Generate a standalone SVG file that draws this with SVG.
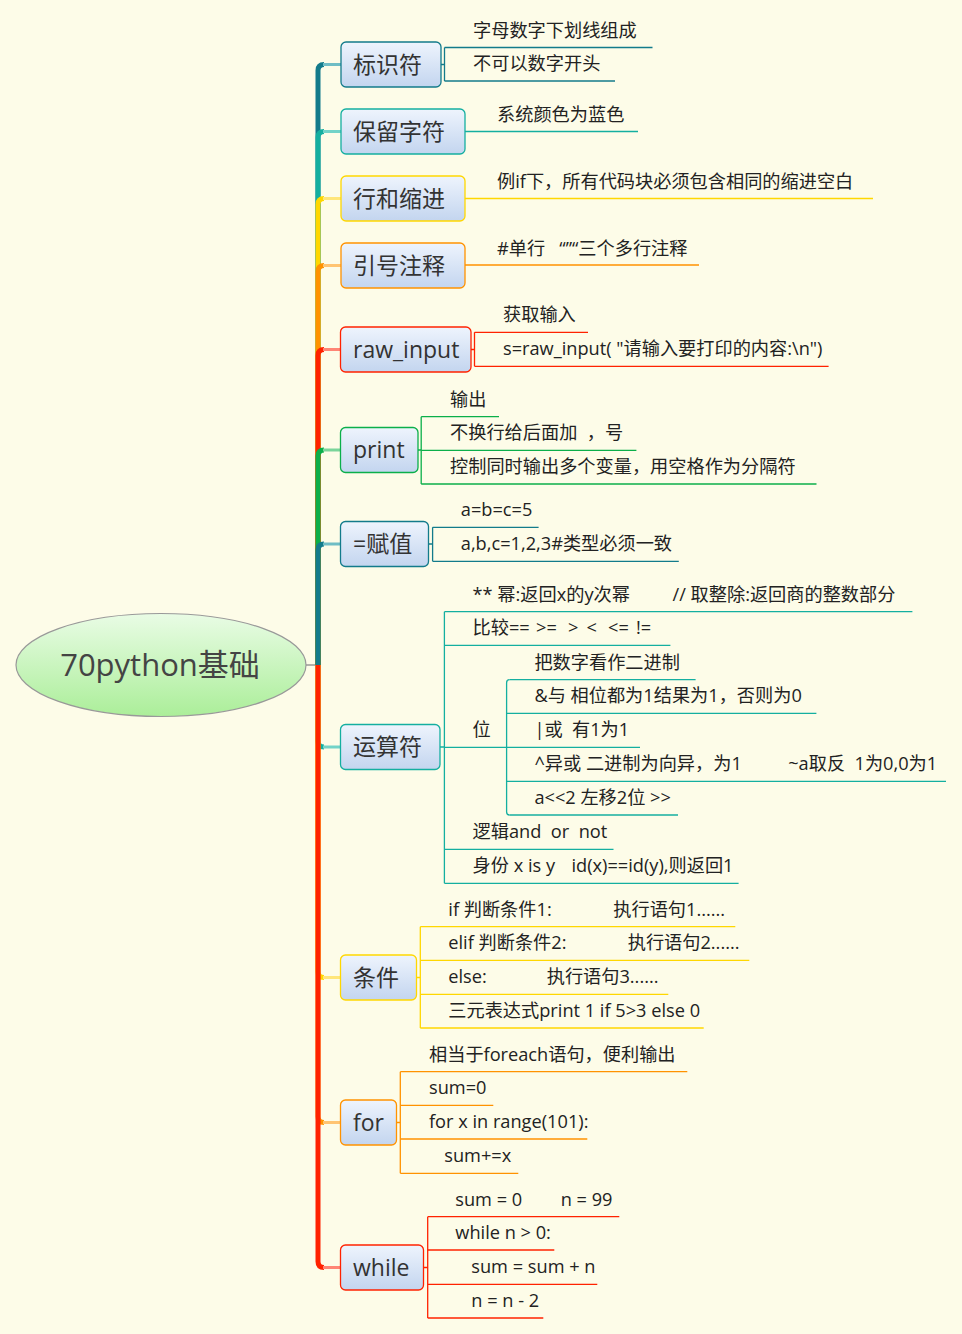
<svg xmlns="http://www.w3.org/2000/svg" width="962" height="1334" viewBox="0 0 962 1334">
<defs>
<linearGradient id="gn" x1="0" y1="0" x2="0" y2="1"><stop offset="0" stop-color="#EEF4FD"/><stop offset="1" stop-color="#C3D5EF"/></linearGradient>
<linearGradient id="gr" x1="0" y1="0" x2="0" y2="1"><stop offset="0" stop-color="#E9FCE5"/><stop offset="1" stop-color="#ABEE99"/></linearGradient>
<style>
.n{font-family:"Open Sans","Noto Sans CJK SC",sans-serif;font-size:23px;fill:#333}
.t{font-family:"Open Sans","Noto Sans CJK SC",sans-serif;font-size:18.2px;fill:#222;white-space:pre}
.box{fill:url(#gn);stroke-width:1.3}
.br{fill:none;stroke-width:5;stroke-linecap:butt}
.hz{fill:none;stroke-width:3}
.ln{fill:none;stroke-width:1.3}
.c1{stroke:#137B8B}.c2{stroke:#14AFA0}.c3{stroke:#FFD700}.c4{stroke:#FF9200}.c5{stroke:#FF2200}.c6{stroke:#0BAF4A}
.l1{stroke:#6FBDC5}.l2{stroke:#72D3C8}.l3{stroke:#FFE67A}.l4{stroke:#FFC472}.l5{stroke:#FF8575}.l6{stroke:#7AD59A}
</style>
</defs>
<rect width="962" height="1334" fill="#FDFCE8"/>

<g id="connectors">
<line x1="306" y1="665" x2="316" y2="665" stroke="#888" stroke-width="1.3"/>
<path class="br c1" d="M318,665V70.5Q318,64.5 324,64.5"/><line class="hz l1" x1="323" y1="64.5" x2="341" y2="64.5"/>
<path class="br c2" d="M318,665V137.5Q318,131.5 324,131.5"/><line class="hz l2" x1="323" y1="131.5" x2="341" y2="131.5"/>
<path class="br c3" d="M318,665V204.5Q318,198.5 324,198.5"/><line class="hz l3" x1="323" y1="198.5" x2="341" y2="198.5"/>
<path class="br c4" d="M318,665V271.5Q318,265.5 324,265.5"/><line class="hz l4" x1="323" y1="265.5" x2="341" y2="265.5"/>
<path class="br c5" d="M318,665V355.5Q318,349.5 324,349.5"/><line class="hz l5" x1="323" y1="349.5" x2="341" y2="349.5"/>
<path class="br c6" d="M318,665V456Q318,450 324,450"/><line class="hz l6" x1="323" y1="450" x2="341" y2="450"/>
<path class="br c1" d="M318,665V550Q318,544 324,544"/><line class="hz l1" x1="323" y1="544" x2="341" y2="544"/>
<path class="br c2" d="M318,665V741Q318,747 324,747"/><line class="hz l2" x1="323" y1="747" x2="341" y2="747"/>
<path class="br c3" d="M318,665V971.5Q318,977.5 324,977.5"/><line class="hz l3" x1="323" y1="977.5" x2="341" y2="977.5"/>
<path class="br c4" d="M318,665V1116.5Q318,1122.5 324,1122.5"/><line class="hz l4" x1="323" y1="1122.5" x2="341" y2="1122.5"/>
<path class="br c5" d="M318,665V1261.5Q318,1267.5 324,1267.5"/><line class="hz l5" x1="323" y1="1267.5" x2="341" y2="1267.5"/>

<path class="ln c1" d="M441,64.5H444.5M444.5,47.5V81"/>
<path class="ln c5" d="M471,349.5H474.5M474.5,332.3V366.3"/>
<path class="ln c6" d="M418,450H421.2M421.2,416.7V484"/>
<path class="ln c1" d="M428.4,544H432.6M432.6,527.3V561.3"/>
<path class="ln c2" d="M440,747H444.4M444.4,611.7V883.3"/>
<path class="ln c2" d="M509.6,679.7Q506.6,679.7 506.6,682.7V812Q506.6,815 509.6,815"/>
<path class="ln c3" d="M416.3,977.5H420.3M420.3,926.7V1028"/>
<path class="ln c4" d="M396.3,1122.5H400.3M400.3,1071.7V1173.3"/>
<path class="ln c5" d="M423.7,1267.5H427.7M427.7,1216.7V1318"/>
</g>

<g id="root">
<ellipse cx="161" cy="665" rx="145" ry="51.5" fill="url(#gr)" stroke="#999" stroke-width="1.2"/>
<text x="160" y="676" text-anchor="middle" font-family="Open Sans, Noto Sans CJK SC, sans-serif" font-size="31" fill="#444">70python基础</text>
</g>

<g id="n-biaoshifu"><rect class="box c1" x="341" y="42" width="100" height="45" rx="5"/><text class="n" x="353" y="72.5">标识符</text></g>
<g id="n-baoliu"><rect class="box c2" x="341" y="109" width="124" height="45" rx="5"/><text class="n" x="353" y="139.5">保留字符</text></g>
<g id="n-suojin"><rect class="box c3" x="341" y="176" width="124" height="45" rx="5"/><text class="n" x="353" y="206.5">行和缩进</text></g>
<g id="n-zhushi"><rect class="box c4" x="341" y="243" width="124" height="45" rx="5"/><text class="n" x="353" y="273.5">引号注释</text></g>
<g id="n-rawinput"><rect class="box c5" x="340.5" y="327" width="130.5" height="45" rx="5"/><text class="n" x="353" y="357.5">raw_input</text></g>
<g id="n-print"><rect class="box c6" x="340.5" y="427.5" width="77.5" height="45" rx="5"/><text class="n" x="353" y="458">print</text></g>
<g id="n-fuzhi"><rect class="box c1" x="340.5" y="521.5" width="88" height="45" rx="5"/><text class="n" x="353" y="552">=赋值</text></g>
<g id="n-yunsuanfu"><rect class="box c2" x="340.5" y="724.5" width="99.5" height="45" rx="5"/><text class="n" x="353" y="755">运算符</text></g>
<g id="n-tiaojian"><rect class="box c3" x="340.5" y="955" width="76" height="45" rx="5"/><text class="n" x="353" y="985.5">条件</text></g>
<g id="n-for"><rect class="box c4" x="340.5" y="1100" width="56" height="45" rx="5"/><text class="n" x="353" y="1130.5">for</text></g>
<g id="n-while"><rect class="box c5" x="340.5" y="1245" width="83" height="45" rx="5"/><text class="n" x="353" y="1275.5">while</text></g>

<g id="leaf-1-1"><line class="ln c1" x1="444.5" y1="47.5" x2="652.5" y2="47.5"/><text class="t" x="473" y="36.5">字母数字下划线组成</text></g>
<g id="leaf-1-2"><line class="ln c1" x1="444.5" y1="81" x2="615" y2="81"/><text class="t" x="473" y="70">不可以数字开头</text></g>
<g id="leaf-2-1"><line class="ln c2" x1="465" y1="131.5" x2="638" y2="131.5"/><text class="t" x="497" y="120.5">系统颜色为蓝色</text></g>
<g id="leaf-3-1"><line class="ln c3" x1="465" y1="198.5" x2="873" y2="198.5"/><text class="t" x="497" y="187.5">例if下，所有代码块必须包含相同的缩进空白</text></g>
<g id="leaf-4-1"><line class="ln c4" x1="465" y1="265" x2="699" y2="265"/><text class="t" x="497" y="254.5">#单行   “”“三个多行注释</text></g>
<g id="leaf-5-1"><line class="ln c5" x1="474.5" y1="332.3" x2="588" y2="332.3"/><text class="t" x="503" y="321.3">获取输入</text></g>
<g id="leaf-5-2"><line class="ln c5" x1="474.5" y1="366.3" x2="828.6" y2="366.3"/><text class="t" x="503" y="355.3">s=raw_input( "请输入要打印的内容:\n")</text></g>
<g id="leaf-6-1"><line class="ln c6" x1="421.2" y1="416.7" x2="499" y2="416.7"/><text class="t" x="450" y="405.7">输出</text></g>
<g id="leaf-6-2"><line class="ln c6" x1="421.2" y1="450.3" x2="636.4" y2="450.3"/><text class="t" x="450" y="439.3">不换行给后面加  ，号</text></g>
<g id="leaf-6-3"><line class="ln c6" x1="421.2" y1="484" x2="816.5" y2="484"/><text class="t" x="450" y="473">控制同时输出多个变量，用空格作为分隔符</text></g>
<g id="leaf-7-1"><line class="ln c1" x1="432.6" y1="527.3" x2="538.6" y2="527.3"/><text class="t" x="460.8" y="516.3">a=b=c=5</text></g>
<g id="leaf-7-2"><line class="ln c1" x1="432.6" y1="561.3" x2="678.8" y2="561.3"/><text class="t" x="460.8" y="550.3">a,b,c=1,2,3#类型必须一致</text></g>
<g id="leaf-8-1"><line class="ln c2" x1="444.4" y1="611.7" x2="912.4" y2="611.7"/><text class="t" x="472.6" y="600.7">** 幂:返回x的y次幂<tspan x="672.5">// 取整除:返回商的整数部分</tspan></text></g>
<g id="leaf-8-2"><line class="ln c2" x1="444.4" y1="645.3" x2="670.4" y2="645.3"/><text class="t" x="472.6" y="634.3">比较== <tspan x="536">&gt;=  </tspan><tspan x="568">&gt; </tspan><tspan x="586.5">&lt;  </tspan><tspan x="608">&lt;= </tspan><tspan x="636">!=</tspan></text></g>
<g id="leaf-8-3"><line class="ln c2" x1="444.4" y1="747.3" x2="506.6" y2="747.3"/><text class="t" x="472.6" y="736.3">位</text></g>
<g id="leaf-8-3-1"><line class="ln c2" x1="509.6" y1="679.7" x2="695.6" y2="679.7"/><text class="t" x="534.4" y="668.7">把数字看作二进制</text></g>
<g id="leaf-8-3-2"><line class="ln c2" x1="506.6" y1="713.3" x2="816.4" y2="713.3"/><text class="t" x="534.4" y="702.3">&amp;与 相位都为1结果为1，否则为0</text></g>
<g id="leaf-8-3-3"><line class="ln c2" x1="506.6" y1="747.3" x2="640" y2="747.3"/><text class="t" x="534.4" y="736.3">|或  有1为1</text></g>
<g id="leaf-8-3-4"><line class="ln c2" x1="506.6" y1="781.3" x2="946" y2="781.3"/><text class="t" x="534.4" y="770.3">^异或 二进制为向异，为1<tspan x="788.2">~a取反  1为0,0为1</tspan></text></g>
<g id="leaf-8-3-5"><line class="ln c2" x1="509.6" y1="815" x2="678" y2="815"/><text class="t" x="534.4" y="804">a&lt;&lt;2 左移2位 &gt;&gt;</text></g>
<g id="leaf-8-4"><line class="ln c2" x1="444.4" y1="849.3" x2="613.5" y2="849.3"/><text class="t" x="472.6" y="838.3">逻辑and  or  not</text></g>
<g id="leaf-8-5"><line class="ln c2" x1="444.4" y1="883.3" x2="738.6" y2="883.3"/><text class="t" x="472.6" y="872.3">身份 x is y<tspan x="571.5">id(x)==id(y),则返回1</tspan></text></g>
<g id="leaf-9-1"><line class="ln c3" x1="420.3" y1="926.7" x2="735.3" y2="926.7"/><text class="t" x="448.3" y="915.7">if 判断条件1:<tspan x="613.3">执行语句1......</tspan></text></g>
<g id="leaf-9-2"><line class="ln c3" x1="420.3" y1="960.3" x2="749.3" y2="960.3"/><text class="t" x="448.3" y="949.3">elif 判断条件2:<tspan x="627.7">执行语句2......</tspan></text></g>
<g id="leaf-9-3"><line class="ln c3" x1="420.3" y1="994.3" x2="668.3" y2="994.3"/><text class="t" x="448.3" y="983.3">else:<tspan x="546.7">执行语句3......</tspan></text></g>
<g id="leaf-9-4"><line class="ln c3" x1="420.3" y1="1028" x2="703.7" y2="1028"/><text class="t" x="448.3" y="1017">三元表达式print 1 if 5&gt;3 else 0</text></g>
<g id="leaf-10-1"><line class="ln c4" x1="400.3" y1="1071.7" x2="687.3" y2="1071.7"/><text class="t" x="429" y="1060.7">相当于foreach语句，便利输出</text></g>
<g id="leaf-10-2"><line class="ln c4" x1="400.3" y1="1105.3" x2="493.3" y2="1105.3"/><text class="t" x="429" y="1094.3">sum=0</text></g>
<g id="leaf-10-3"><line class="ln c4" x1="400.3" y1="1139" x2="587.3" y2="1139"/><text class="t" x="429" y="1128">for x in range(101):</text></g>
<g id="leaf-10-4"><line class="ln c4" x1="400.3" y1="1173.3" x2="518.3" y2="1173.3"/><text class="t" x="444.3" y="1162.3">sum+=x</text></g>
<g id="leaf-11-1"><line class="ln c5" x1="427.7" y1="1216.7" x2="619.3" y2="1216.7"/><text class="t" x="455.3" y="1205.7">sum = 0<tspan x="560.7">n = 99</tspan></text></g>
<g id="leaf-11-2"><line class="ln c5" x1="427.7" y1="1250" x2="554.3" y2="1250"/><text class="t" x="455.3" y="1239">while n &gt; 0:</text></g>
<g id="leaf-11-3"><line class="ln c5" x1="427.7" y1="1284.3" x2="597.3" y2="1284.3"/><text class="t" x="471.3" y="1273.3">sum = sum + n</text></g>
<g id="leaf-11-4"><line class="ln c5" x1="427.7" y1="1318" x2="543.3" y2="1318"/><text class="t" x="471.3" y="1307">n = n - 2</text></g>
</svg>
